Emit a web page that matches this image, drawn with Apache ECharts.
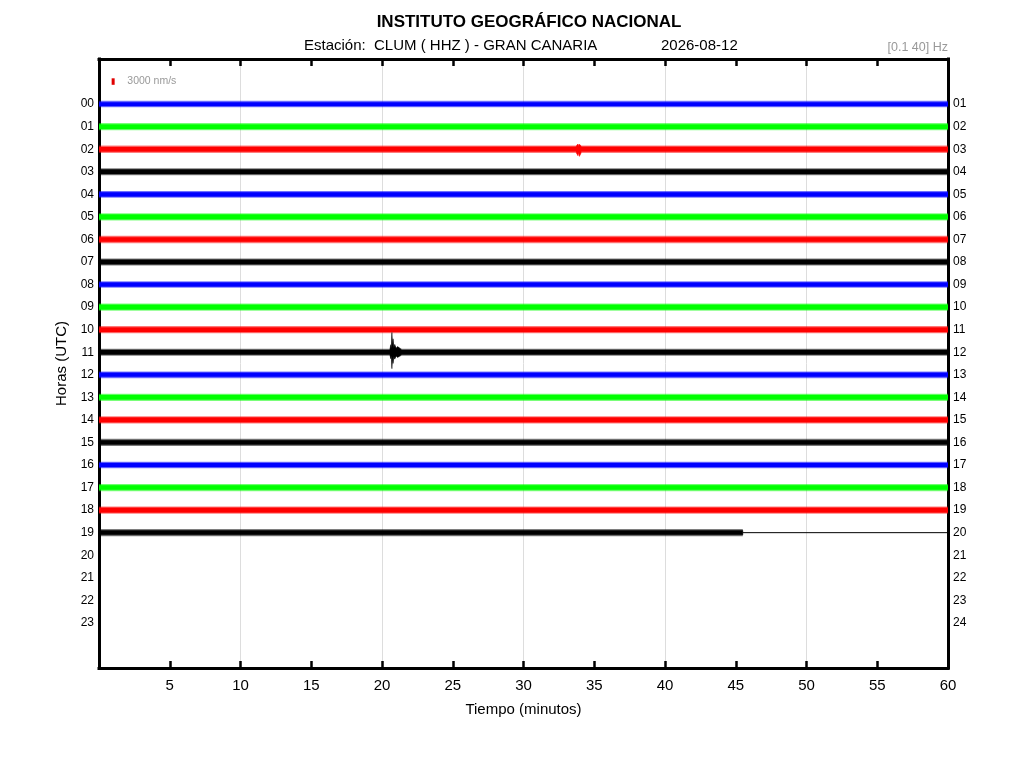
<!DOCTYPE html>
<html>
<head>
<meta charset="utf-8">
<script src="https://cdn.jsdelivr.net/npm/echarts@6/dist/echarts.min.js"></script>
<style>html,body{margin:0;padding:0;background:#fff}#c{width:1024px;height:768px}</style>
</head>
<body>
<div id="c"></div>
<script>
// ---- data ----
const leftHourLabels = ['00','01','02','03','04','05','06','07','08','09','10','11','12','13','14','15','16','17','18','19','20','21','22','23'];
const rightHourLabels = ['01','02','03','04','05','06','07','08','09','10','11','12','13','14','15','16','17','18','19','20','21','22','23','24'];
const xTickValues = [5,10,15,20,25,30,35,40,45,50,55,60];
const gridMinutes = [10,20,30,40,50];
const traceHours = [0,1,2,3,4,5,6,7,8,9,10,11,12,13,14,15,16,17,18,19];
// half-width of the solid core of each hourly trace (nm/s)
const traceCore = [900,1050,1050,1000,950,1050,1050,1000,900,1050,1050,1000,950,1050,1050,1000,950,1050,1050,1000];
// half-width reached by the small noise spikes of each trace (nm/s)
const traceSpike = [1500,1650,1700,1650,1550,1650,1700,1650,1500,1650,1700,1650,1550,1650,1700,1650,1550,1650,1700,1650];
// minute where each trace stops recording
const traceEnd = [60,60,60,60,60,60,60,60,60,60,60,60,60,60,60,60,60,60,60,45.5];
// flat line after the end of the last trace: [hour, fromMinute, toMinute]
const flatTail = [[19,45.5,60]];
// local envelope of visible bursts: [minute, up (nm/s), down (nm/s)]
const burstHour02 = [[33.7,1100,1100],[33.85,2400,3000],[33.9,1300,1400],[33.95,2300,3300],[34.1,1100,1100]];
const burstHour11 = [[20.55,1000,1000],[20.62,3500,3000],[20.66,1800,1600],[20.7,9100,7600],[20.74,3000,2500],[20.78,6200,5200],[20.84,2200,2000],[20.9,3600,3200],[21.0,1800,1700],[21.1,2600,2400],[21.4,1000,1000]];
const scaleBar = {minute:1.0, hour:-1, amp:3000, label:'3000 nm/s'};

const bursts = {2: burstHour02, 11: burstHour11};
const colors = ['#0000ff','#00ff00','#ff0000','#000000'];
const R = 10400; // nm/s per row
const FONT = 'Liberation Sans';

const chart = echarts.init(document.getElementById('c'));

const traceData = traceHours.map((h,i)=>[h, traceCore[i], traceEnd[i], traceSpike[i]]);

function bandPoints(api, h, amp, end, env){
  const top = [[0, h - amp/R]];
  const bot = [[0, h + amp/R]];
  env.forEach(p=>{ top.push([p[0], h - Math.max(p[1],amp)/R]); bot.push([p[0], h + Math.max(p[2],amp)/R]); });
  top.push([end, h - amp/R]);
  bot.push([end, h + amp/R]);
  return top.concat(bot.reverse()).map(p=>api.coord(p));
}

function renderTrace(params, api){
  const h = api.value(0), core = api.value(1), end = api.value(2), spike = api.value(3);
  const env = bursts[h] || [];
  const c = colors[h % 4];
  return {type:'group', children:[
    {type:'polygon', shape:{points:bandPoints(api,h,spike,end,env)}, style:{fill:c, opacity:0.5}},
    {type:'polygon', shape:{points:bandPoints(api,h,core,end,env)}, style:{fill:c, stroke:c, lineWidth:0.5}}
  ]};
}

function renderScale(params, api){
  const a = api.coord([scaleBar.minute, scaleBar.hour - scaleBar.amp/2/R]);
  const b = api.coord([scaleBar.minute, scaleBar.hour + scaleBar.amp/2/R]);
  const t = api.coord([scaleBar.minute + 1.0, scaleBar.hour]);
  return {type:'group', children:[
    {type:'rect', shape:{x:a[0]-1.5, y:a[1], width:3, height:b[1]-a[1]}, style:{fill:'#e00000'}},
    {type:'text', style:{text:scaleBar.label, x:t[0], y:t[1], fill:'#999', fontSize:10.5, fontFamily:FONT, verticalAlign:'middle', align:'left'}}
  ]};
}

const tailLines = flatTail.map(t=>({type:'line', xAxisIndex:0, yAxisIndex:0, data:[[t[1],t[0]],[t[2],t[0]]], symbol:'none', lineStyle:{color:'#000', width:1}, silent:true, animation:false}));

const frameLine = {show:true, onZero:false, lineStyle:{color:'#000', width:3, cap:'square'}};

const option = {
  animation:false,
  textStyle:{fontFamily:FONT},
  title:{text:'INSTITUTO GEOGRÁFICO NACIONAL', left:524, textAlign:'center', top:9,
    textStyle:{fontSize:17, fontWeight:'bold', color:'#000', fontFamily:FONT}},
  graphic:[
    {type:'text', left:304, top:38, style:{text:'Estación:  CLUM ( HHZ ) - GRAN CANARIA', fill:'#000', fontSize:15, fontFamily:FONT}},
    {type:'text', left:661, top:38, style:{text:'2026-08-12', fill:'#000', fontSize:15, fontFamily:FONT}},
    {type:'text', right:76, top:41, style:{text:'[0.1 40] Hz', fill:'#999', fontSize:12.5, fontFamily:FONT}}
  ],
  grid:{left:99, right:76, top:59, bottom:100, show:false},
  xAxis:[
    {type:'value', position:'bottom', min:0, max:60, interval:5,
     name:'Tiempo (minutos)', nameLocation:'middle', nameGap:34,
     nameTextStyle:{fontSize:15, color:'#000', fontFamily:FONT},
     axisLine:frameLine,
     axisTick:{show:true, inside:true, length:7, lineStyle:{color:'#000', width:2.5}},
     axisLabel:{fontSize:15, color:'#000', margin:10, fontFamily:FONT,
       formatter:v=> xTickValues.indexOf(v) >= 0 ? String(v) : ''},
     splitLine:{show:false}},
    {type:'value', position:'top', min:0, max:60, interval:5,
     axisLine:frameLine,
     axisTick:{show:true, inside:true, length:7, lineStyle:{color:'#000', width:2.5}},
     axisLabel:{show:false}, splitLine:{show:false}},
    {type:'value', position:'bottom', min:0, max:60, interval:10, show:true,
     axisLine:{show:false}, axisTick:{show:false}, axisLabel:{show:false},
     splitLine:{show:true, showMinLine:false, showMaxLine:false, lineStyle:{color:'#dddddd', width:1}}}
  ],
  yAxis:[
    {type:'value', position:'left', min:-2, max:25, interval:1, inverse:true,
     name:'Horas (UTC)', nameLocation:'middle', nameGap:21, nameRotate:90,
     nameTextStyle:{fontSize:15, color:'#000', fontFamily:FONT},
     axisLine:frameLine, axisTick:{show:false}, splitLine:{show:false},
     axisLabel:{fontSize:12, color:'#000', margin:5, fontFamily:FONT,
       formatter:v=> (v>=0 && v<leftHourLabels.length) ? leftHourLabels[v] : ''}},
    {type:'value', position:'right', min:-2, max:25, interval:1, inverse:true,
     axisLine:frameLine, axisTick:{show:false}, splitLine:{show:false},
     axisLabel:{fontSize:12, color:'#000', margin:5, fontFamily:FONT,
       formatter:v=> (v>=0 && v<rightHourLabels.length) ? rightHourLabels[v] : ''}}
  ],
  series:[
    {type:'custom', xAxisIndex:0, yAxisIndex:0, data:traceData, renderItem:renderTrace, silent:true, clip:true, z:1},
    {type:'custom', xAxisIndex:0, yAxisIndex:0, data:[[scaleBar.minute, scaleBar.hour]], renderItem:renderScale, silent:true}
  ].concat(tailLines)
};
chart.setOption(option);
</script>
</body>
</html>
